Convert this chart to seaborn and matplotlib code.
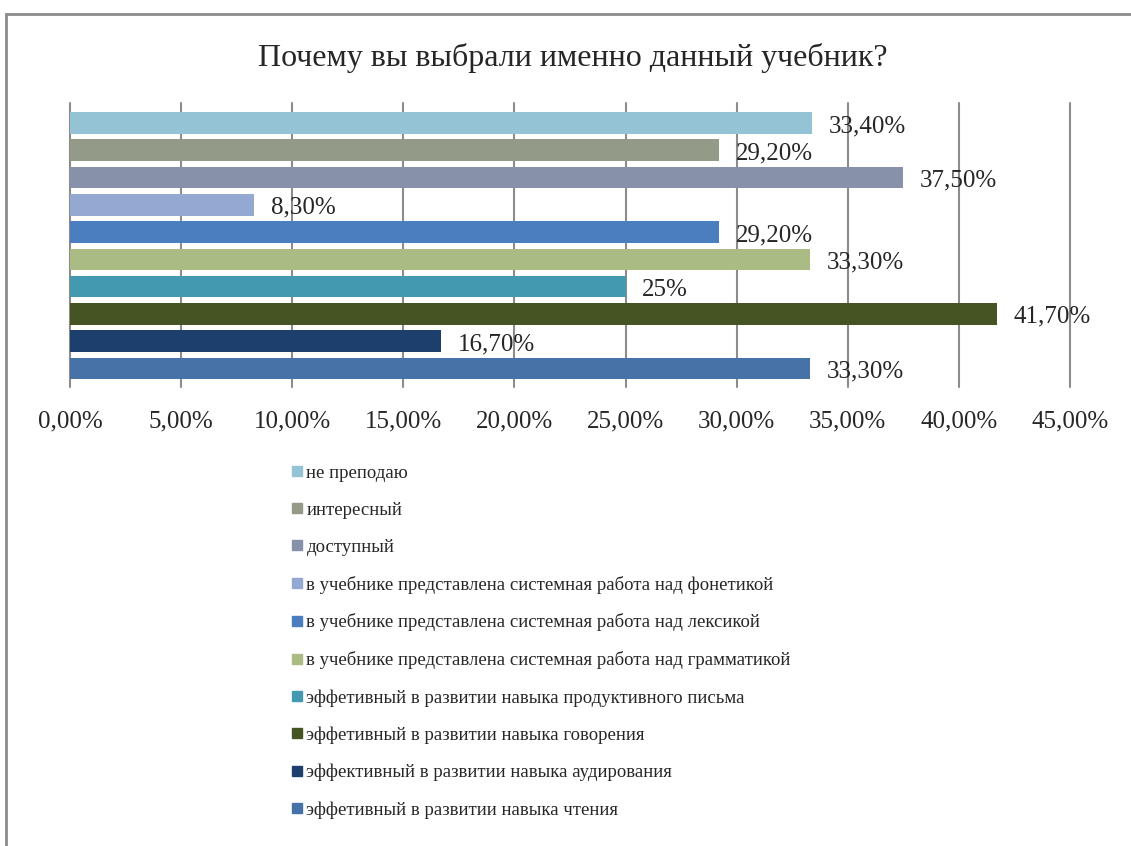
import matplotlib
matplotlib.use("Agg")
import matplotlib.pyplot as plt
import seaborn as sns
import pandas as pd
from matplotlib.patches import Rectangle
from matplotlib.lines import Line2D

categories = [
    "не преподаю",
    "интересный",
    "доступный",
    "в учебнике представлена системная работа над фонетикой",
    "в учебнике представлена системная работа над лексикой",
    "в учебнике представлена системная работа над грамматикой",
    "эффетивный в развитии навыка продуктивного письма",
    "эффетивный в развитии навыка говорения",
    "эффективный в развитии навыка аудирования",
    "эффетивный в развитии навыка чтения",
]
values = [33.4, 29.2, 37.5, 8.3, 29.2, 33.3, 25.0, 41.7, 16.7, 33.3]
value_labels = ["33,40%", "29,20%", "37,50%", "8,30%", "29,20%", "33,30%",
                "25%", "41,70%", "16,70%", "33,30%"]
colors = ["#93C3D5", "#939A87", "#8891AA", "#93A9D1", "#4A7EBF",
          "#AABB84", "#439AB0", "#465322", "#1C3F6D", "#4672A8"]
xticks = [0, 5, 10, 15, 20, 25, 30, 35, 40, 45]
xtick_labels = ["0,00%", "5,00%", "10,00%", "15,00%", "20,00%", "25,00%",
                "30,00%", "35,00%", "40,00%", "45,00%"]
title = "Почему вы выбрали именно данный учебник?"

sns.set_style("white")
plt.rcParams['font.family'] = ['Liberation Serif', 'DejaVu Serif']

W, H = 1131, 846
fig = plt.figure(figsize=(W / 100, H / 100), dpi=100)
ax = fig.add_axes([70 / W, 1 - 386.7 / H, 1000 / W, 283.4 / H])

df = pd.DataFrame({"cat": categories, "val": values})
sns.barplot(data=df, y="cat", x="val", hue="cat", palette=colors,
            order=categories, hue_order=categories, orient="h",
            width=0.79, legend=False, ax=ax, saturation=1, linewidth=0)

ax.set_xlim(0, 45)
ax.set_ylim(9.67, -0.72)
ax.set_xticks(xticks)
ax.set_xticklabels(xtick_labels, fontsize=18)
ax.set_yticks([])
ax.set_xlabel("")
ax.set_ylabel("")
for s in ax.spines.values():
    s.set_visible(False)
ax.tick_params(axis="x", length=0, pad=17)
ax.grid(axis="x", color="#8C8C8C", linewidth=1.5)
ax.set_axisbelow(True)
for gl in ax.get_xgridlines():
    gl.set_clip_on(False)

for i, (v, lab) in enumerate(zip(values, value_labels)):
    ax.annotate(lab, (v, i), xytext=(12, -2.2), textcoords="offset points",
                va="center", ha="left", fontsize=18)

fig.text(573 / W, 1 - 58 / H, title, ha="center", va="center", fontsize=23)

handles = [Line2D([0], [0], marker="s", linestyle="none", markersize=6.5,
                  markerfacecolor=c, markeredgecolor=c) for c in colors]
leg = fig.legend(handles, categories, loc="upper left",
                 bbox_to_anchor=(284 / W, 1 - 457 / H), frameon=False,
                 fontsize=13.5, labelspacing=1.06, handlelength=0.55,
                 handletextpad=0.25, borderaxespad=0)

fig.patches.append(Rectangle((6 / W, -0.1), 1.2, 1 - 14 / H + 0.1,
                             transform=fig.transFigure, fill=False,
                             edgecolor="#8C8C8C", linewidth=2))

fig.savefig("out.png", dpi=100)
